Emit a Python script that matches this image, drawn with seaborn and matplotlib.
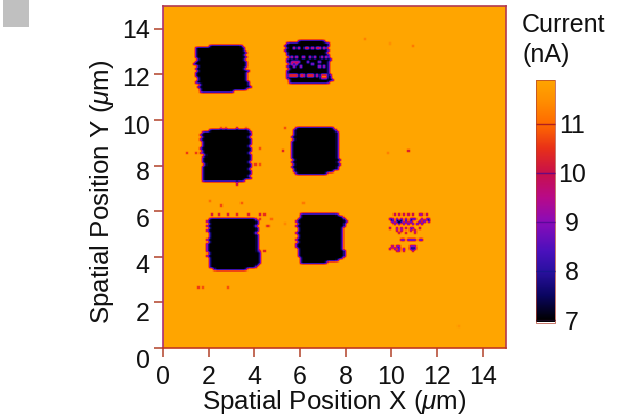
import numpy as np
import pandas as pd
import seaborn as sns
import matplotlib
matplotlib.use("Agg")
import matplotlib.pyplot as plt
from matplotlib.colors import LinearSegmentedColormap
from matplotlib.patches import Rectangle
from matplotlib.transforms import ScaledTranslation

# ---- data, micrometres / nanoamperes ----
background = 11.89
core = 7.0
edge = 8.0
step = 0.1
size = 150

A_top = 13.2
A_left = [2.0,1.42,1.40,1.36,1.42,1.38,1.46,1.40,1.34,1.46,1.42,1.50,1.45,1.42,1.52,1.48,1.44,1.55,1.50,1.55,1.65]
A_right = [3.45,3.52,3.48,3.56,3.50,3.58,3.52,3.62,3.56,3.60,3.54,3.66,3.58,3.60,3.62,3.58,3.68,3.72,3.82,3.60,3.0]
B_top = 13.4
B_left = [5.9,5.45,5.32,5.42,5.35,5.45,5.38,5.5,5.42,5.38,5.48,5.42,5.5,5.4,5.45,5.36,5.45,5.5,5.55]
B_right = [7.05,7.15,7.2,7.14,7.22,7.12,7.24,7.18,7.26,7.2,7.22,7.16,7.24,7.18,7.2,7.26,7.3,7.36,7.25]
C_top = 9.5
C_left = [2.0,1.72,1.65,1.72,1.62,1.7,1.66,1.74,1.6,1.72,1.68,1.76,1.66,1.72,1.7,1.76,1.68,1.74,1.7,1.72,1.66,1.7,1.7]
C_right = [3.72,3.76,3.78,3.74,3.8,3.76,3.78,3.74,3.8,3.76,3.74,3.8,3.76,3.78,3.74,3.78,3.76,3.74,3.8,3.78,3.74,3.76,3.5]
D_top = 9.6
D_left = [5.75,5.68,5.66,5.7,5.62,5.66,5.58,5.64,5.6,5.56,5.62,5.58,5.64,5.6,5.66,5.62,5.66,5.62,5.68,5.72,5.85]
D_right = [7.42,7.5,7.56,7.56,7.6,7.56,7.62,7.58,7.64,7.6,7.62,7.58,7.6,7.62,7.66,7.62,7.66,7.6,7.55,7.45,7.1]
E_top = 5.6
E_left = [2.0,1.94,1.98,1.9,1.96,1.92,2.0,1.96,1.98,1.94,2.0,1.9,1.86,1.92,1.88,1.96,1.94,2.0,1.96,2.02,2.0,2.05,2.2]
E_right = [4.02,4.06,4.08,4.04,4.1,4.06,4.04,4.08,4.06,4.1,4.08,4.12,4.1,4.14,4.1,4.16,4.18,4.16,4.2,4.16,4.12,3.95,3.6]
F_top = 5.8
F_left = [6.05,5.95,5.88,5.82,5.86,5.8,5.86,5.9,5.84,5.92,5.88,5.8,5.86,5.8,5.84,5.88,5.86,5.9,5.94,5.96,5.98,6.0]
F_right = [7.65,7.82,7.9,7.96,7.9,7.86,7.78,7.8,7.76,7.8,7.78,7.8,7.76,7.82,7.78,7.82,7.9,7.92,7.88,7.8,7.65,7.1]

# isolated defects outside the squares (x, y, current)
stray_x = [1.0,1.36,1.55,2.5,2.67,3.24,3.6,4.17,5.2,5.3,4.0,4.25,3.2,3.25,2.0,2.54,3.37,6.1,
           2.06,2.4,2.85,3.24,3.68,4.25,4.38,4.25,4.68,4.46,4.6,4.38,4.25,1.49,1.7,2.8,5.3,12.9,
           10.72,9.85,8.85,9.93,10.94]
stray_y = [8.46,8.46,8.46,9.6,9.6,9.65,9.6,8.68,8.57,9.6,7.95,7.95,7.2,7.1,6.45,6.2,6.3,6.3,
           5.75,5.75,5.75,5.75,5.75,5.75,5.75,5.57,5.57,5.26,5.26,4.17,4.17,2.59,2.59,2.59,5.43,0.92,
           8.6,8.46,13.46,13.3,13.2]
stray_v = [10.6,10.6,10.3,10.8,10.8,10.3,11.0,10.8,10.4,10.8,10.6,10.8,10.6,10.3,11.1,10.7,10.9,11.2,
           10.2,10.3,10.2,10.4,10.3,10.2,10.5,10.6,11.0,10.7,10.9,10.4,10.6,10.6,10.8,10.8,11.4,11.6,
           10.3,11.3,11.3,11.5,11.2]

# faint pattern to the right of the lower row
G_y = [5.75,5.6,5.5,5.4,5.25,5.1,4.95,4.7,4.45,4.3,4.15]
G_x = [[10.1,10.3,10.5,10.7,10.95,11.2,11.35,11.5],
       [9.95,10.05,10.25,10.4,10.6,10.75,10.9,11.05,11.3,11.5,11.65],
       [10.05,10.25,10.35,10.45,10.55,10.65,10.75,10.85,11.2,11.4,11.55],
       [10.1,10.3,10.5,10.7,10.9,11.1,11.3],
       [9.95,10.2,10.45,10.65,10.8,10.95,11.15,11.25],
       [10.2,10.45,10.75,11.05],
       [10.3,10.6,11.0],
       [10.4,10.5,10.7,10.8,10.9,11.0,11.15,11.25,11.3],
       [10.0,10.15,10.3,10.75,10.95,11.05],
       [9.95,10.1,10.3,10.5,10.8,10.95,11.05],
       [10.2,10.3,10.5,10.9]]
G_v = [10.0,9.6,8.3,9.0,9.9,10.2,10.3,9.7,9.8,9.6,10.2]

# lighter streaks inside the top-middle square
B_y = [13.07,12.7,12.5,12.4,12.3,11.93,11.75]
B_x = [[5.7,5.9,6.2,6.3,6.5,6.7,6.8,7.0],
       [5.6,5.8,6.1,6.4,6.6,6.9,7.1],
       [5.6,5.7,5.8,5.9,6.3,6.8],
       [5.6,5.75,5.85,6.5],
       [5.7,6.0,6.8,7.0],
       [5.5,5.6,5.7,5.8,6.0,6.1,6.3,6.4,6.5,6.7,6.9,7.0,7.1],
       [6.9,7.0,7.1]]
B_v = [11.2,10.9,10.1,10.1,10.7,11.3,10.3]

x_ticks = [0, 2, 4, 6, 8, 10, 12, 14]
y_ticks = [0, 2, 4, 6, 8, 10, 12, 14]
y_label_shift_px = [10, 9, 7, 6, 5, 4, 2, 0]
cbar_ticks = [7, 8, 9, 10, 11]
cbar_tick_colors = ["#1a0a20", "#1a1590", "#5a0a9a", "#6a0a80", "#b02020"]
x_label = r"Spatial Position X ($\mu$m)"
y_label = r"Spatial Position Y ($\mu$m)"
cbar_title = "Current\n(nA)"

cmap_values = [6.95, 7.0, 7.5, 8.0, 8.4, 9.0, 9.5, 10.0, 10.5, 11.0, 11.5, 11.89]
cmap_colors = ["#000000", "#000000", "#0a0560", "#2a10a0", "#4a10bc", "#8a0cb8",
               "#b80a88", "#c8104a", "#e83018", "#ff6a00", "#ff9000", "#ffa500"]

# ---- build the current map ----
grid = np.full((size, size), background)

def cell(v):
    return int(round(v / step))

def stray_level(v):
    # the picture softens single spots, so a stray needs a deeper dip before softening
    return max(core, background - (background - v) * 1.8)

for top, lefts, rights in [(A_top, A_left, A_right), (B_top, B_left, B_right),
                           (C_top, C_left, C_right), (D_top, D_left, D_right),
                           (E_top, E_left, E_right), (F_top, F_left, F_right)]:
    for i, (l, r) in enumerate(zip(lefts, rights)):
        row = cell(top) - i
        a, b = cell(l), cell(r)
        grid[row, a:b + 1] = core
        grid[row, a] = edge
        grid[row, b] = edge

for y, xs, v in zip(B_y, B_x, B_v):
    for x in xs:
        grid[cell(y), cell(x)] = v
for y, xs, v in zip(G_y, G_x, G_v):
    for x in xs:
        grid[cell(y), cell(x)] = stray_level(v)
for x, y, v in zip(stray_x, stray_y, stray_v):
    grid[cell(y), cell(x)] = stray_level(v)

# finer cells with the slight softness of the scanned image
fine = np.repeat(np.repeat(grid, 2, axis=0), 2, axis=1)
pad = np.pad(fine, 1, mode="edge")
kernel = np.array([1.0, 2.0, 1.0]) / 4
fine = np.apply_along_axis(lambda r: np.convolve(r, kernel, mode="same"), 0, pad)
fine = np.apply_along_axis(lambda r: np.convolve(r, kernel, mode="same"), 1, fine)[1:-1, 1:-1]
current = pd.DataFrame(fine)
cells_per_um = 2 / step

# ---- draw ----
W, H = 628, 415
sns.set_theme(style="ticks")
plt.rcParams["font.family"] = ["Liberation Sans", "DejaVu Sans"]
plt.rcParams["mathtext.fontset"] = "custom"
plt.rcParams["mathtext.rm"] = "Liberation Sans"
plt.rcParams["mathtext.it"] = "Liberation Sans:italic"
plt.rcParams["mathtext.fallback"] = "stixsans"

fig = plt.figure(figsize=(W / 100, H / 100), dpi=100, facecolor="white")
ax = fig.add_axes([163 / W, 1 - 348 / H, (505.5 - 163) / W, (348 - 6) / H])
cax = fig.add_axes([536 / W, 1 - 322.5 / H, (555 - 536) / W, (322.5 - 80) / H])

lo, hi = cmap_values[0], cmap_values[-1]
cmap = LinearSegmentedColormap.from_list(
    "current", [((v - lo) / (hi - lo), c) for v, c in zip(cmap_values, cmap_colors)], N=512)

sns.heatmap(current, ax=ax, cbar_ax=cax, cmap=cmap, vmin=lo, vmax=hi,
            xticklabels=False, yticklabels=False, cbar=True)
ax.invert_yaxis()

for s in ax.spines.values():
    s.set_visible(True)
    s.set_color("#b23a50")
    s.set_linewidth(1.2)
ax.spines["left"].set_color("#a8307a")
ax.spines["bottom"].set_color("#c23a20")

ax.set_xticks([t * cells_per_um for t in x_ticks])
ax.set_xticklabels([str(t) for t in x_ticks], rotation=0)
ax.set_yticks([t * cells_per_um for t in y_ticks])
ax.set_yticklabels([str(t) for t in y_ticks], rotation=0)
ax.tick_params(axis="both", direction="out", length=6.5, width=1.2, color="#b8503a",
               labelsize=18, labelcolor="#111111", pad=3)
ax.tick_params(axis="x", pad=5.5)

for lab, shift in zip(ax.get_yticklabels(), y_label_shift_px):
    lab.set_transform(lab.get_transform() + ScaledTranslation(0, -shift / 100, fig.dpi_scale_trans))

ax.set_xlabel(x_label, fontsize=18.7, color="#111111", labelpad=-0.5)
ax.set_ylabel(y_label, fontsize=18.7, color="#111111", labelpad=4.5, y=0.456)

cb = ax.collections[0].colorbar
cb.set_ticks(cbar_ticks)
cb.set_ticklabels([str(t) for t in cbar_ticks])
cb.outline.set_edgecolor("#b04030")
cb.outline.set_linewidth(0.5)
cax.set_axisbelow(False)
cax.tick_params(axis="y", direction="in", length=13.7, width=1.0, labelsize=18,
                labelcolor="#111111", pad=12)
for lab in cax.get_yticklabels():
    lab.set_ha("center")

fig.text(522 / W, 1 - 13 / H, cbar_title, fontsize=18, color="#111111",
         ha="left", va="top", linespacing=1.3)
fig.add_artist(Rectangle((3 / W, 1 - 27.5 / H), 26 / W, 27.5 / H, transform=fig.transFigure,
                         facecolor="#c0c0c0", edgecolor="none"))

# the colorbar ticks take their colours once the axis has been laid out
fig.canvas.draw()
for tick, color in zip(cax.yaxis.get_major_ticks(), cbar_tick_colors):
    tick.tick1line.set_markeredgecolor(color)
    tick.tick2line.set_markeredgecolor(color)
for lab in cax.get_yticklabels():
    lab.set_ha("center")

fig.savefig("out.png", dpi=100)
